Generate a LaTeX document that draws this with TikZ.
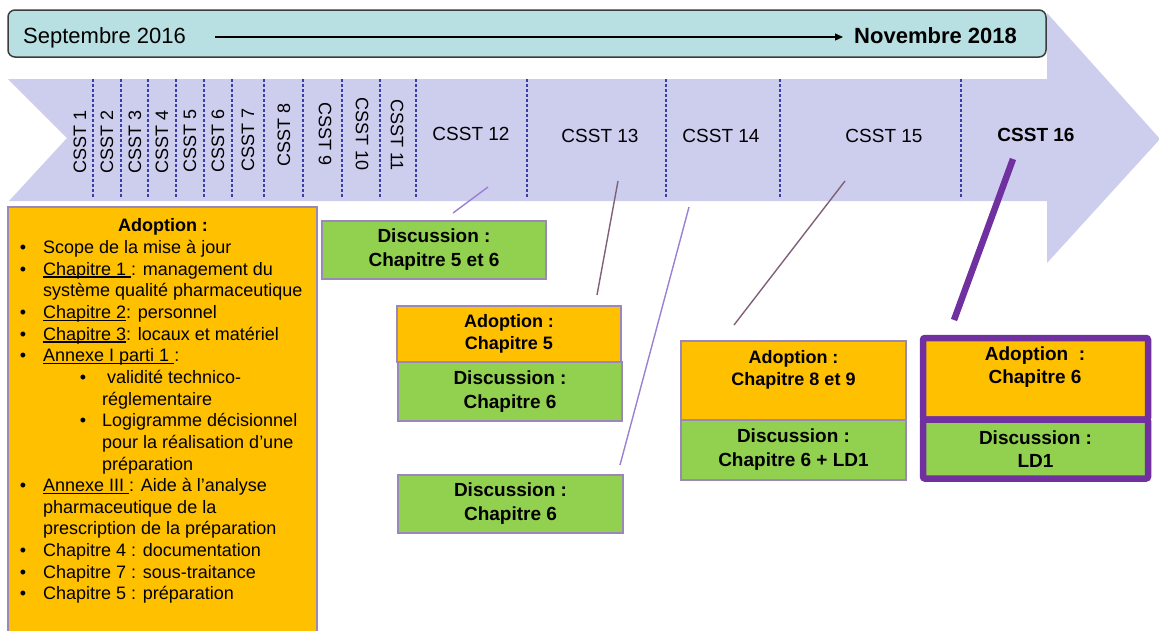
\documentclass[tikz,border=0pt]{standalone}
\usepackage{fontspec}
\setmainfont{Liberation Sans}
\usetikzlibrary{arrows.meta}

\definecolor{arrowfill}{HTML}{CDCDEE}
\definecolor{bannerfill}{HTML}{B8E0E3}
\definecolor{bannerline}{HTML}{3C3C3C}
\definecolor{adoptfill}{HTML}{FFC000}
\definecolor{discfill}{HTML}{92D050}
\definecolor{boxline}{HTML}{9A88B8}
\definecolor{dashblue}{HTML}{3A3FA8}
\definecolor{linklight}{HTML}{9B7FD0}
\definecolor{linkdark}{HTML}{806078}
\definecolor{accent}{HTML}{7030A0}

% underline sitting just under the baseline
\newcommand\undl[1]{\setbox0\hbox{#1}\rlap{\rule[-2.4pt]{\wd0}{1.1pt}}\box0}

\begin{document}
\begin{tikzpicture}[x=1pt,y=-1pt,
  divider/.style={dashblue, line width=1.1pt, dash pattern=on 3pt off 2pt},
  vlab/.style={inner sep=0pt, font=\fontsize{18}{22}\selectfont},
  hlab/.style={inner sep=0pt, font=\fontsize{19}{23}\selectfont},
  item/.style={anchor=base west, inner sep=0pt, font=\fontsize{18}{22}\selectfont},
  bullet/.style={anchor=base, inner sep=0pt, font=\fontsize{18}{22}\selectfont},
  boxA/.style={draw=boxline, line width=1.1pt, fill=adoptfill, inner sep=0pt},
  boxD/.style={draw=boxline, line width=1.1pt, fill=discfill, inner sep=0pt},
  boxK/.style={draw=accent, line width=6.5pt, rounded corners=2pt, inner sep=0pt},
  btxt/.style={align=center, font=\bfseries\fontsize{19}{24}\selectfont},
  stxt/.style={align=center, font=\bfseries\fontsize{18}{22}\selectfont},
  link/.style={line width=1.4pt},
]
\useasboundingbox (0,0) rectangle (1159,630);

% main timeline arrow with notched tail
\fill[arrowfill] (8,79) -- (1047,79) -- (1047,13) -- (1160,139) -- (1047,263)
  -- (1047,201) -- (9,201) -- (67,138) -- cycle;

% banner with the date range
\node[draw=bannerline, line width=1.5pt, fill=bannerfill, rounded corners=7pt,
  minimum width=1038pt, minimum height=47pt, inner sep=0pt] (banner) at (527,33.5) {};
\node[anchor=base west, inner sep=0pt, font=\fontsize{22}{26}\selectfont] (start) at (23,43) {Septembre 2016};
\node[anchor=base west, inner sep=0pt, font=\bfseries\fontsize{22}{26}\selectfont] (finish) at (854,43) {Novembre 2018};
\draw[line width=1.2pt, -{Triangle[length=8pt,width=7pt]}]
  ([xshift=29pt,yshift=6pt]start.base east) -- ([xshift=-11pt,yshift=6pt]finish.base west);

% session dividers
\foreach \xx in {93,121,148,176,204,232,264,303,342,380,416,527,666,780,961}
  \draw[divider] (\xx,79) -- (\xx,198);

% session labels
\node[vlab, rotate=90] (s1) at (80,142) {CSST 1};
\node[vlab, rotate=90] (s2) at (107,142) {CSST 2};
\node[vlab, rotate=90] (s3) at (135,142) {CSST 3};
\node[vlab, rotate=90] (s4) at (162,142) {CSST 4};
\node[vlab, rotate=90] (s5) at (190,141) {CSST 5};
\node[vlab, rotate=90] (s6) at (218,141) {CSST 6};
\node[vlab, rotate=90] (s7) at (248,140) {CSST 7};
\node[vlab, rotate=90] (s8) at (284,135) {CSST 8};
\node[vlab, rotate=-90] (s9) at (325,134) {CSST 9};
\node[vlab, rotate=-90] (s10) at (362,134) {CSST 10};
\node[vlab, rotate=-90] (s11) at (397,135) {CSST 11};
\node[hlab] (s12) at (471,134) {CSST 12};
\node[hlab] (s13) at (600,136) {CSST 13};
\node[hlab] (s14) at (721,136) {CSST 14};
\node[hlab] (s15) at (884,136) {CSST 15};
\node[hlab, font=\bfseries\fontsize{19}{23}\selectfont] (s16) at (1036,135) {CSST 16};

% first adoption block
\node[boxA, minimum width=309pt, minimum height=433pt] (first) at (162.5,423.5) {};
\node[anchor=base, inner sep=0pt, font=\bfseries\fontsize{18}{22}\selectfont] (firsthead) at (163,231.5) {Adoption :};
\node[bullet] (b0) at (23,253.5) {•};
\node[item] (t0) at (43,253.5) {Scope de la mise à jour};
\node[bullet] (b1) at (23,275.15) {•};
\node[item] (t1) at (43,275.15) {\undl{Chapitre 1\ }: management du};
\node[item] (t2) at (43,296.8) {système qualité pharmaceutique};
\node[bullet] (b3) at (23,318.45) {•};
\node[item] (t3) at (43,318.45) {\undl{Chapitre 2} : personnel};
\node[bullet] (b4) at (23,340.1) {•};
\node[item] (t4) at (43,340.1) {\undl{Chapitre 3} : locaux et matériel};
\node[bullet] (b5) at (23,361.75) {•};
\node[item] (t5) at (43,361.75) {\undl{Annexe I parti 1\ }:};
\node[bullet] (b6) at (83,383.4) {•};
\node[item] (t6) at (102,383.4) {\ validité technico-};
\node[item] (t7) at (102,405.05) {réglementaire};
\node[bullet] (b8) at (83,426.7) {•};
\node[item] (t8) at (102,426.7) {Logigramme décisionnel};
\node[item] (t9) at (102,448.35) {pour la réalisation d’une};
\node[item] (t10) at (102,470) {préparation};
\node[bullet] (b11) at (23,491.65) {•};
\node[item] (t11) at (43,491.65) {\undl{Annexe III\ }: Aide à l’analyse};
\node[item] (t12) at (43,513.3) {pharmaceutique de la};
\node[item] (t13) at (43,534.95) {prescription de la préparation};
\node[bullet] (b14) at (23,556.6) {•};
\node[item] (t14) at (43,556.6) {Chapitre 4 : documentation};
\node[bullet] (b15) at (23,578.25) {•};
\node[item] (t15) at (43,578.25) {Chapitre 7 : sous-traitance};
\node[bullet] (b16) at (23,599.9) {•};
\node[item] (t16) at (43,599.9) {Chapitre 5 : préparation};

% later session outcomes
\node[boxD, minimum width=224pt, minimum height=58pt, btxt] (d12) at (434,250)
  {Discussion :\\Chapitre 5 et 6};
\node[boxA, minimum width=224pt, minimum height=56pt, stxt] (a13) at (509,334)
  {Adoption :\\Chapitre 5};
\node[boxD, minimum width=224pt, minimum height=59pt, btxt] (d13) at (510,391.5)
  {Discussion :\\Chapitre 6};
\node[boxD, minimum width=225pt, minimum height=58pt, btxt] (d14) at (510.5,504)
  {Discussion :\\Chapitre 6};
\node[boxA, minimum width=225pt, minimum height=79pt] (a15) at (793.5,380.5) {};
\node[stxt, inner sep=0pt] (a15t) at (793.5,370) {Adoption :\\Chapitre 8 et 9};
\node[boxD, minimum width=225pt, minimum height=60pt, btxt] (d15) at (793.5,450)
  {Discussion :\\Chapitre 6 + LD1};
\node[boxK, fill=adoptfill, minimum width=225pt, minimum height=81.5pt] (a16) at (1035.5,378.75) {};
\node[btxt, inner sep=0pt, font=\bfseries\fontsize{19}{23}\selectfont] (a16t) at (1035,367.5) {Adoption\ \ :\\Chapitre 6};
\node[boxK, fill=discfill, minimum width=225pt, minimum height=59pt, btxt,
  font=\bfseries\fontsize{19}{23}\selectfont] (d16) at (1035.5,449) {Discussion :\\LD1};

% leader lines from sessions to outcomes
\coordinate (p12) at (488,187);  \coordinate (q12) at (453,213);
\coordinate (p13) at (618,181);  \coordinate (q13) at (597,295);
\coordinate (p14) at (689,207);  \coordinate (q14) at (620,465);
\coordinate (p15) at (845,181);  \coordinate (q15) at (734,325);
\coordinate (p16) at (1013,159); \coordinate (q16) at (954,320);
\draw[link, linklight] (p12) -- (q12);
\draw[link, linkdark] (p13) -- (q13);
\draw[link, linklight] (p14) -- (q14);
\draw[link, linkdark] (p15) -- (q15);
\draw[accent, line width=6.5pt] (p16) -- (q16);
\end{tikzpicture}
\end{document}
